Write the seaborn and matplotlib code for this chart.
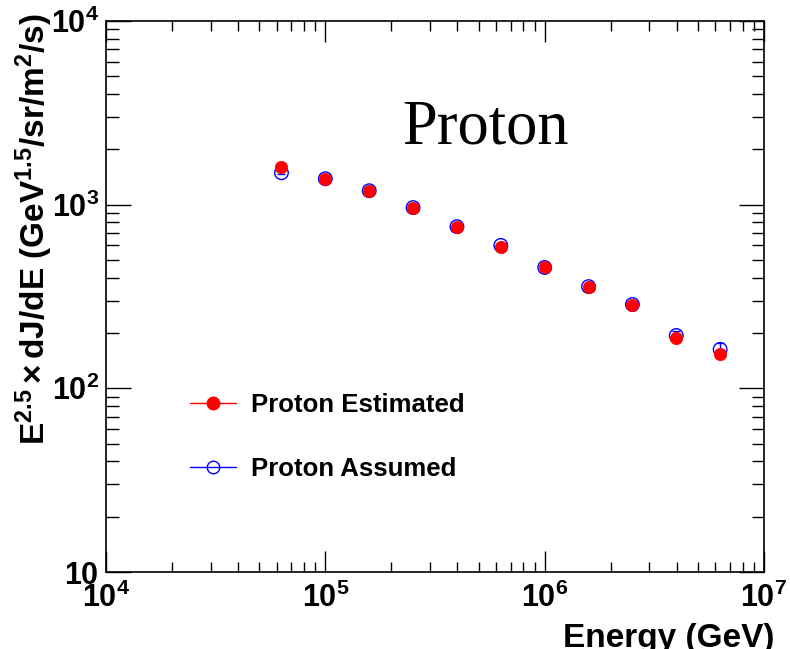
import numpy as np
import pandas as pd
import matplotlib
matplotlib.use("Agg")
import matplotlib.pyplot as plt
from matplotlib.lines import Line2D
from matplotlib.ticker import LogLocator, FixedLocator, FixedFormatter, NullFormatter
import seaborn as sns

# ---- data ----
energy = [63096, 100000, 158489, 251189, 398107, 630957,
          1000000, 1584893, 2511886, 3981072, 6309573]
estimated = [1610, 1384, 1191, 964, 759, 590, 455, 358, 286, 189, 153]
estimated_err = [40, 25, 20, 15, 12, 9, 7, 6, 5, 5, 5]
assumed = [1492, 1384, 1191, 964, 759, 600, 455, 358, 286, 194, 163]
assumed_err = [30, 25, 20, 15, 12, 9, 7, 6, 6, 12, 13]
xticks = [1e4, 1e5, 1e6, 1e7]
xticklabels = [r"$\mathbf{10^{4}}$", r"$\mathbf{10^{5}}$", r"$\mathbf{10^{6}}$", r"$\mathbf{10^{7}}$"]
yticks = [10, 100, 1000, 10000]
yticklabels = [r"$\mathbf{10}$", r"$\mathbf{10^{2}}$", r"$\mathbf{10^{3}}$", r"$\mathbf{10^{4}}$"]

df = pd.DataFrame({"energy": energy, "estimated": estimated, "assumed": assumed})

sns.set_theme(style="ticks")
plt.rcParams["font.family"] = ["Liberation Sans", "DejaVu Sans"]
plt.rcParams["mathtext.fontset"] = "custom"
plt.rcParams["mathtext.rm"] = "Liberation Sans"
plt.rcParams["mathtext.bf"] = "Liberation Sans:bold"
plt.rcParams["mathtext.it"] = "Liberation Sans:italic"
for k in ["text.color", "axes.labelcolor", "xtick.color", "ytick.color", "axes.edgecolor"]:
    plt.rcParams[k] = "black"

fig = plt.figure(figsize=(7.9, 6.49), dpi=100)
ax = fig.add_axes([106/790, 1-572/649, (764-106)/790, (572-21)/649])
ax.set_facecolor("white")

ax.errorbar(energy, assumed, yerr=assumed_err, fmt="none", ecolor="blue", elinewidth=1, capsize=3, capthick=1, zorder=2)
ax.errorbar(energy, estimated, yerr=estimated_err, fmt="none", ecolor="red", elinewidth=1, capsize=3, capthick=1, zorder=3)
sns.scatterplot(data=df, x="energy", y="assumed", ax=ax, marker="o", s=95,
                color="blue", facecolors="none", edgecolor="blue", linewidth=1.0, zorder=4)
sns.scatterplot(data=df, x="energy", y="estimated", ax=ax, marker="o", s=80,
                color="red", edgecolor="red", linewidth=0.5, zorder=5)

ax.set_xscale("log")
ax.set_yscale("log")
ax.set_xlim(1e4, 1e7)
ax.set_ylim(10, 1e4)

ax.xaxis.set_major_locator(FixedLocator(xticks))
ax.xaxis.set_major_formatter(FixedFormatter(xticklabels))
ax.yaxis.set_major_locator(FixedLocator(yticks))
ax.yaxis.set_major_formatter(FixedFormatter(yticklabels))
ax.xaxis.set_minor_locator(LogLocator(base=10, subs=np.arange(2, 10), numticks=20))
ax.yaxis.set_minor_locator(LogLocator(base=10, subs=np.arange(2, 10), numticks=20))
ax.xaxis.set_minor_formatter(NullFormatter())
ax.yaxis.set_minor_formatter(NullFormatter())

ax.tick_params(axis="both", which="both", direction="in", top=True, right=True, color="black", width=1)
ax.tick_params(axis="x", which="major", length=15, labelsize=22, pad=8)
ax.tick_params(axis="x", which="minor", length=7.5)
ax.tick_params(axis="y", which="major", length=18, labelsize=22, pad=5)
ax.tick_params(axis="y", which="minor", length=9)
for s in ax.spines.values():
    s.set_color("black")
    s.set_linewidth(1.2)

ax.set_xlabel("Energy (GeV)", fontsize=24, fontweight="bold", loc="right")
ax.xaxis.set_label_coords(1.016, -0.092)
ax.set_ylabel(r"$\mathbf{E^{2.5}\times dJ/dE\ (GeV^{1.5}/sr/m^{2}/s)}$", fontsize=24)
ax.yaxis.set_label_coords(-0.077, 0.622)

fig.text(402/790, 1-143/649, "Proton", family="Liberation Serif", fontsize=45, ha="left", va="baseline")

handles = [
    Line2D([], [], color="red", lw=1, marker="o", markersize=9, markerfacecolor="red", markeredgecolor="red"),
    Line2D([], [], color="blue", lw=1, marker="o", markersize=9, markerfacecolor="none", markeredgecolor="blue"),
]
leg = ax.legend(handles, ["Proton Estimated", "Proton Assumed"], loc="center left",
                bbox_to_anchor=(0.128, 0.245), frameon=False, borderpad=0, borderaxespad=0,
                handlelength=1.8, handletextpad=0.55, labelspacing=1.55,
                prop={"family": "Liberation Sans", "weight": "bold", "size": 18.5})

fig.savefig("out.png", dpi=100, facecolor="white")
